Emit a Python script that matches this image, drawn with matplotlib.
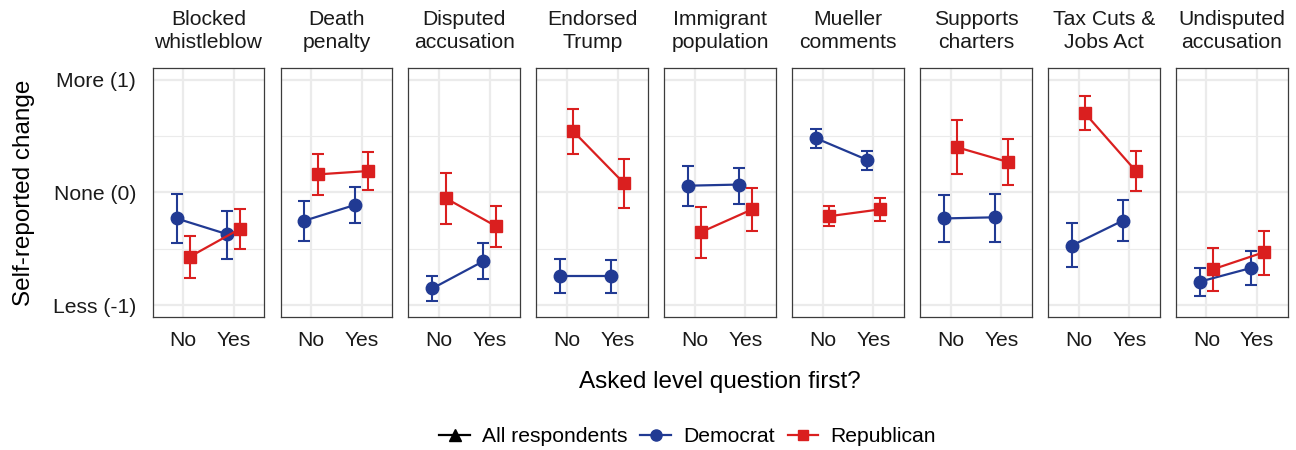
#!/usr/bin/env python3
"""
Self-reported change by question order, split by party, one panel per item.
"""

import matplotlib.pyplot as plt
from matplotlib.lines import Line2D
import numpy as np

plt.rcParams['font.family'] = ['Liberation Sans', 'DejaVu Sans']

# Items (facets), in panel order
items = ['Blocked\nwhistleblow', 'Death\npenalty', 'Disputed\naccusation',
         'Endorsed\nTrump', 'Immigrant\npopulation', 'Mueller\ncomments',
         'Supports\ncharters', 'Tax Cuts &\nJobs Act', 'Undisputed\naccusation']
order_labels = ['No', 'Yes']

# Democrat estimates: [No, Yes] per item, with lower / upper interval bounds
dem_mean = [[-0.23, -0.37], [-0.25, -0.11], [-0.85, -0.61], [-0.74, -0.74],
            [0.06, 0.07], [0.48, 0.29], [-0.23, -0.22], [-0.47, -0.25],
            [-0.79, -0.67]]
dem_low = [[-0.45, -0.59], [-0.43, -0.27], [-0.96, -0.77], [-0.89, -0.89],
           [-0.12, -0.10], [0.39, 0.20], [-0.44, -0.44], [-0.66, -0.43],
           [-0.92, -0.82]]
dem_high = [[-0.01, -0.16], [-0.08, 0.05], [-0.74, -0.45], [-0.59, -0.60],
            [0.23, 0.22], [0.56, 0.37], [-0.02, -0.01], [-0.27, -0.07],
            [-0.67, -0.52]]

# Republican estimates
rep_mean = [[-0.57, -0.32], [0.16, 0.19], [-0.05, -0.30], [0.54, 0.08],
            [-0.35, -0.15], [-0.21, -0.15], [0.40, 0.27], [0.70, 0.19],
            [-0.68, -0.53]]
rep_low = [[-0.76, -0.50], [-0.02, 0.02], [-0.28, -0.48], [0.34, -0.14],
           [-0.58, -0.34], [-0.30, -0.25], [0.16, 0.07], [0.55, 0.01],
           [-0.87, -0.73]]
rep_high = [[-0.39, -0.15], [0.34, 0.36], [0.17, -0.12], [0.74, 0.30],
            [-0.13, 0.04], [-0.12, -0.05], [0.64, 0.47], [0.85, 0.37],
            [-0.49, -0.34]]

y_ticks = [-1, 0, 1]
y_labels = ['Less (-1)', 'None (0)', 'More (1)']

DEM = '#213A93'
REP = '#DA1F1F'
GRID = '#EBEBEB'
TEXT = '#1A1A1A'
FS = 15.2      # strip and tick text
FS_TITLE = 17.5  # axis titles


def draw_series(ax, x, mean, low, high, color, marker, ms):
    mean = np.asarray(mean)
    yerr = [mean - np.asarray(low), np.asarray(high) - mean]
    ax.errorbar(x, mean, yerr=yerr, color=color, linestyle='none',
                elinewidth=1.5, capsize=4.2, capthick=1.5, zorder=3)
    ax.plot(x, mean, color=color, linewidth=1.6, marker=marker,
            markersize=ms, zorder=4)


def make_figure():
    fig = plt.figure(figsize=(12.96, 4.5), dpi=100)

    left0, width, step = 0.1178, 0.0861, 0.0987
    bottom, height = 0.2963, 0.552
    dodge = 0.13
    xs = np.arange(1, len(order_labels) + 1)

    for i, name in enumerate(items):
        ax = fig.add_axes([left0 + i * step, bottom, width, height])
        ax.set_xlim(0.4, 2.6)
        ax.set_ylim(-1.1, 1.1)

        # grid
        for yv in (-0.5, 0.5):
            ax.axhline(yv, color=GRID, linewidth=0.8, zorder=0)
        for yv in y_ticks:
            ax.axhline(yv, color=GRID, linewidth=1.6, zorder=0)
        for xv in xs:
            ax.axvline(xv, color=GRID, linewidth=1.6, zorder=0)

        draw_series(ax, xs - dodge, dem_mean[i], dem_low[i], dem_high[i],
                    DEM, 'o', 9)
        draw_series(ax, xs + dodge, rep_mean[i], rep_low[i], rep_high[i],
                    REP, 's', 8.4)

        ax.set_xticks(xs)
        ax.set_xticklabels(order_labels, fontsize=FS, color=TEXT)
        ax.set_yticks(y_ticks)
        if i == 0:
            ax.set_yticklabels(y_labels, fontsize=FS, color=TEXT)
            ax.set_ylabel('Self-reported change', fontsize=FS_TITLE,
                          color='black', labelpad=13)
        else:
            ax.set_yticklabels([])
        ax.tick_params(axis='x', length=0, pad=10.5)
        ax.tick_params(axis='y', length=0, pad=12)
        for sp in ax.spines.values():
            sp.set_color('#3C3C3C')
            sp.set_linewidth(0.9)
        ax.set_title(name, fontsize=FS, color=TEXT, pad=14.5,
                     linespacing=1.25)

    fig.text(0.5 * (left0 + left0 + 8 * step + width), 0.151,
             'Asked level question first?', ha='center', va='center',
             fontsize=FS_TITLE, color='black')

    handles = [
        Line2D([], [], color='black', marker='^', markersize=8, linewidth=1.6),
        Line2D([], [], color=DEM, marker='o', markersize=8, linewidth=1.6),
        Line2D([], [], color=REP, marker='s', markersize=7, linewidth=1.6),
    ]
    fig.legend(handles, ['All respondents', 'Democrat', 'Republican'],
               loc='center', bbox_to_anchor=(0.5305, 0.03),
               ncol=3, frameon=False, fontsize=FS, handlelength=1.44,
               handletextpad=0.58, columnspacing=0.61)

    fig.savefig('out.png', dpi=100)
    plt.close(fig)


if __name__ == '__main__':
    make_figure()
